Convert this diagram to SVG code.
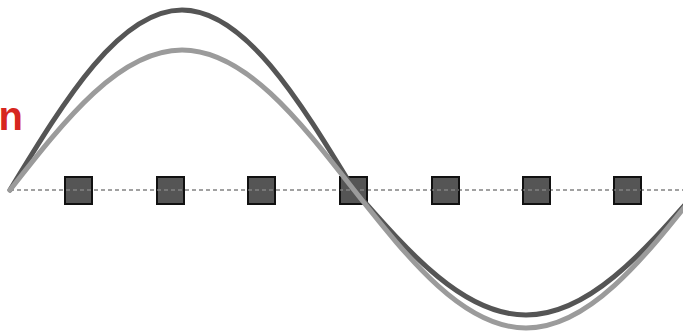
<svg xmlns="http://www.w3.org/2000/svg" width="683" height="333" viewBox="0 0 683 333">
<style>
.sq{fill:#555555;stroke:#111111;stroke-width:2}
.axis{fill:none;stroke:#444444;stroke-width:1.2;stroke-dasharray:4 3}
.axis2{fill:none;stroke:#9a9a9a;stroke-width:1.2;stroke-dasharray:4 3}
.wave{fill:none;stroke-width:5;stroke-linecap:round}
.lbl{font-family:"Liberation Sans","DejaVu Sans",sans-serif;font-weight:bold;font-size:40px;fill:#d7261e}
</style>
<defs>
<clipPath id="sqclip">
<rect x="65" y="177" width="27" height="27"/>
<rect x="157" y="177" width="27" height="27"/>
<rect x="248" y="177" width="27" height="27"/>
<rect x="340" y="177" width="27" height="27"/>
<rect x="432" y="177" width="27" height="27"/>
<rect x="523" y="177" width="27" height="27"/>
<rect x="614" y="177" width="27" height="27"/>
</clipPath>
</defs>
<g id="label"><text class="lbl" x="23" y="130" text-anchor="end">n</text></g>
<g id="connectors">
<line class="axis" x1="10" y1="190" x2="683" y2="190"/>
</g>
<g id="node1"><rect class="sq" x="65" y="177" width="27" height="27"/></g>
<g id="node2"><rect class="sq" x="157" y="177" width="27" height="27"/></g>
<g id="node3"><rect class="sq" x="248" y="177" width="27" height="27"/></g>
<g id="node4"><rect class="sq" x="340" y="177" width="27" height="27"/></g>
<g id="node5"><rect class="sq" x="432" y="177" width="27" height="27"/></g>
<g id="node6"><rect class="sq" x="523" y="177" width="27" height="27"/></g>
<g id="node7"><rect class="sq" x="614" y="177" width="27" height="27"/></g>
<g id="axis-over"><line class="axis2" x1="10" y1="190" x2="683" y2="190" clip-path="url(#sqclip)"/></g>
<g id="waves">
<path class="wave" stroke="#555555" d="M10,190 C66,97.8 120,10 182,10 C244,10 298,97.8 354,190 C410,254 464,315 526,315 C588,315 642,254 698,190"/>
<path class="wave" stroke="#9b9b9b" d="M10,190 C66,118.3 120,50 182,50 C244,50 298,118.3 354,190 C410,261 464,328 526,328 C588,328 642,261 698,190"/>
</g>
</svg>
